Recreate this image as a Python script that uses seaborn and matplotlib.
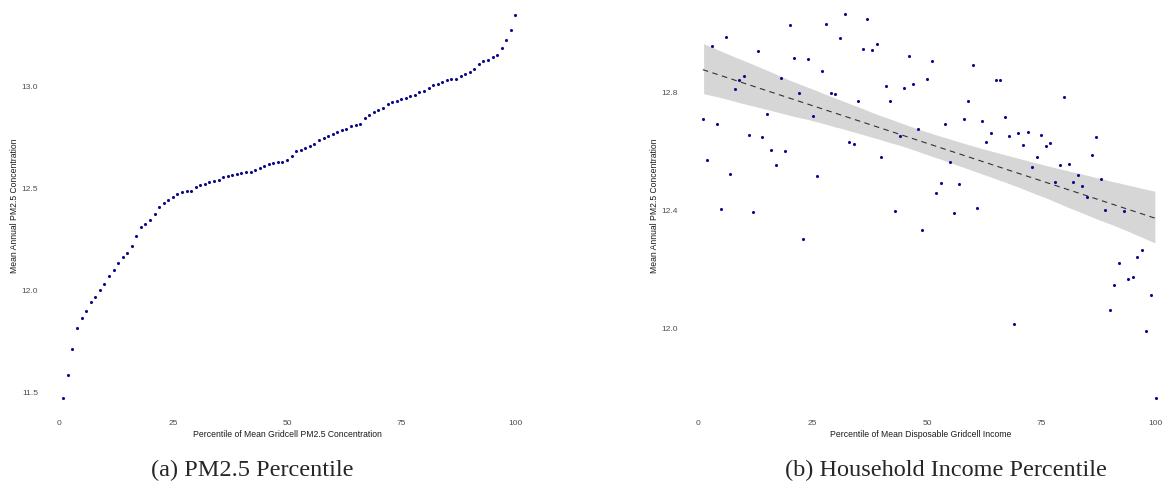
import numpy as np
import pandas as pd
import matplotlib
matplotlib.use("Agg")
import matplotlib.pyplot as plt
import seaborn as sns

# Percentile ranks (1..100) shared by both panels
percentiles = list(range(1, 101))

# (a) Mean annual PM2.5 concentration, sorted by PM2.5 percentile
pm25_by_pm25_pct = [
    11.473, 11.588, 11.713, 11.817, 11.865, 11.899, 11.943, 11.968, 12.003, 12.031,
    12.072, 12.101, 12.137, 12.165, 12.184, 12.218, 12.270, 12.311, 12.327, 12.348,
    12.377, 12.409, 12.430, 12.444, 12.459, 12.473, 12.484, 12.489, 12.490, 12.508,
    12.517, 12.525, 12.531, 12.538, 12.544, 12.557, 12.564, 12.569, 12.574, 12.578,
    12.582, 12.582, 12.592, 12.601, 12.611, 12.621, 12.626, 12.629, 12.632, 12.641,
    12.660, 12.685, 12.691, 12.701, 12.709, 12.721, 12.739, 12.747, 12.757, 12.770,
    12.778, 12.789, 12.794, 12.806, 12.812, 12.819, 12.848, 12.863, 12.877, 12.887,
    12.894, 12.917, 12.926, 12.931, 12.938, 12.946, 12.956, 12.961, 12.974, 12.980,
    12.992, 13.008, 13.015, 13.025, 13.034, 13.038, 13.038, 13.051, 13.064, 13.072,
    13.085, 13.113, 13.124, 13.132, 13.144, 13.154, 13.191, 13.230, 13.276, 13.353,
]

# (b) Mean annual PM2.5 concentration by disposable income percentile
pm25_by_income_pct = [
    12.711, 12.572, 12.959, 12.695, 12.407, 12.990, 12.523, 12.813, 12.844, 12.857,
    12.656, 12.396, 12.941, 12.651, 12.728, 12.605, 12.553, 12.850, 12.603, 13.028,
    12.919, 12.799, 12.304, 12.915, 12.721, 12.517, 12.872, 13.033, 12.798, 12.796,
    12.985, 13.066, 12.633, 12.627, 12.773, 12.947, 13.049, 12.944, 12.966, 12.581,
    12.822, 12.771, 12.398, 12.654, 12.815, 12.923, 12.828, 12.678, 12.335, 12.846,
    12.908, 12.459, 12.492, 12.694, 12.564, 12.393, 12.489, 12.709, 12.770, 12.892,
    12.408, 12.703, 12.634, 12.664, 12.843, 12.843, 12.718, 12.654, 12.014, 12.664,
    12.623, 12.666, 12.548, 12.581, 12.656, 12.620, 12.629, 12.497, 12.554, 12.784,
    12.557, 12.498, 12.521, 12.483, 12.447, 12.590, 12.650, 12.507, 12.402, 12.064,
    12.149, 12.222, 12.397, 12.167, 12.176, 12.242, 12.267, 11.991, 12.115, 11.764,
]

x_ticks = [0, 25, 50, 75, 100]
y_ticks_a = [11.5, 12.0, 12.5, 13.0]
y_ticks_b = [12.0, 12.4, 12.8]

xlabel_a = "Percentile of Mean Gridcell PM2.5 Concentration"
xlabel_b = "Percentile of Mean Disposable Gridcell Income"
ylabel = "Mean Annual PM2.5 Concentration"
caption_a = "(a) PM2.5 Percentile"
caption_b = "(b) Household Income Percentile"

df_a = pd.DataFrame({"pct": percentiles, "pm25": pm25_by_pm25_pct})
df_b = pd.DataFrame({"pct": percentiles, "pm25": pm25_by_income_pct})

sns.set_theme(style="white")
plt.rcParams["font.family"] = ["Liberation Sans", "DejaVu Sans"]

POINT = "#0b0b8a"
TICK_GREY = "#4d4d4d"

fig = plt.figure(figsize=(11.67, 4.88), dpi=100)
ax1 = fig.add_axes([0.03488, 0.1447, 0.4261, 0.8553])
ax2 = fig.add_axes([0.5829, 0.1447, 0.4171, 0.8553])

# Panel (a): sorted concentrations
sns.scatterplot(data=df_a, x="pct", y="pm25", ax=ax1, color=POINT,
                s=5, linewidth=0, zorder=3)
ax1.set_xlim(-3.95, 104.95)
ax1.set_ylim(11.379, 13.425)
ax1.set_yticks(y_ticks_a)

# Panel (b): concentrations against income with a linear fit and 95% band
sns.regplot(data=df_b, x="pct", y="pm25", ax=ax2, scatter=False, ci=95,
            n_boot=2000, seed=7, color="#333333",
            line_kws=dict(lw=0.8, linestyle=(0, (5, 4)), zorder=2))
for coll in ax2.collections:
    coll.set_facecolor("#d6d6d6")
    coll.set_alpha(1.0)
    coll.set_zorder(1)
sns.scatterplot(data=df_b, x="pct", y="pm25", ax=ax2, color=POINT,
                s=5, linewidth=0, zorder=3)
ax2.set_xlim(-3.95, 102.5)
ax2.set_ylim(11.699, 13.114)
ax2.set_yticks(y_ticks_b)

for ax, xl in ((ax1, xlabel_a), (ax2, xlabel_b)):
    ax.set_xticks(x_ticks)
    ax.set_xticklabels([str(t) for t in x_ticks])
    ax.set_yticklabels([f"{t:.1f}" for t in ax.get_yticks()])
    for s in ax.spines.values():
        s.set_visible(False)
    ax.grid(False)
    ax.set_facecolor("white")
    ax.tick_params(length=0, pad=2, labelsize=6, labelcolor=TICK_GREY)
    ax.set_xlabel(xl, fontsize=6.2, color="#1a1a1a")
    ax.set_ylabel(ylabel, fontsize=6.2, color="#1a1a1a")
    ax.xaxis.label.set_va("center")
    ax.yaxis.label.set_va("center")

ax1.xaxis.set_label_coords(0.497, -0.040)
ax2.xaxis.set_label_coords(0.4946, -0.040)
ax1.yaxis.set_label_coords(-0.0517, 0.508)
ax2.yaxis.set_label_coords(-0.052, 0.508)

fig.text(252 / 1167, 1 - 470 / 488, caption_a, ha="center", va="center",
         fontsize=17.5, family=["Liberation Serif", "DejaVu Serif"])
fig.text(946 / 1167, 1 - 470 / 488, caption_b, ha="center", va="center",
         fontsize=17.5, family=["Liberation Serif", "DejaVu Serif"])

fig.savefig("out.png", dpi=100, facecolor="white")
